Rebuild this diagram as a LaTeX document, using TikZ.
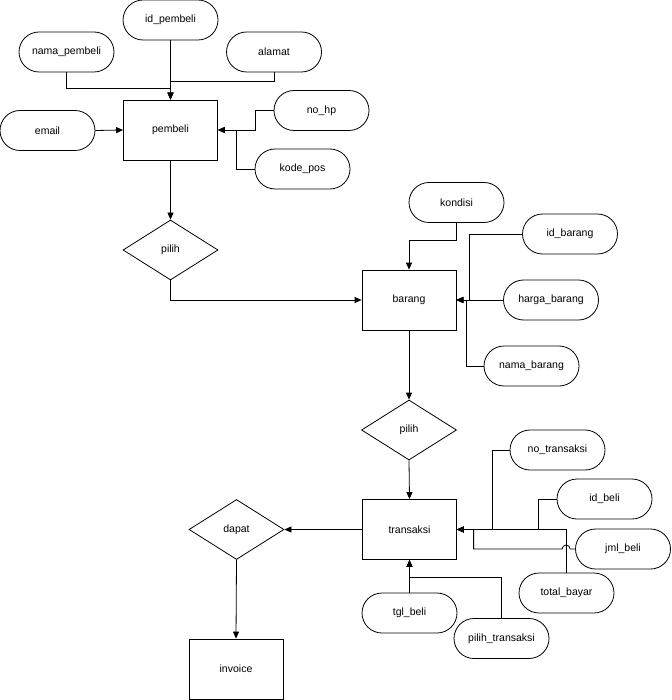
\documentclass[tikz,border=0pt]{standalone}
\usepackage{fontspec}
\setmainfont{Liberation Sans}
\usetikzlibrary{shapes.geometric,arrows.meta}

\begin{document}
\begin{tikzpicture}[x=1pt,y=-1pt,line width=0.8pt,
  font=\fontsize{10.5}{12}\selectfont,
  entity/.style={rectangle, draw, minimum width=94pt, minimum height=60pt},
  attr/.style={rectangle, rounded corners=20pt, draw, minimum width=95pt, minimum height=40pt},
  rel/.style={diamond, draw, minimum width=95pt, minimum height=60pt, inner sep=0pt},
  link/.style={-{Triangle[length=7pt,width=6pt]}}]
  \useasboundingbox (0,0) rectangle (671,700);
  \node[entity] (pembeli) at (170.5,130) {pembeli};
  \node[attr] (idpembeli) at (170.5,20) {id\_pembeli};
  \node[attr] (namapembeli) at (66.5,52) {nama\_pembeli};
  \node[attr] (alamat) at (274,52) {alamat};
  \node[attr] (email) at (47.5,130.5) {email};
  \node[attr] (nohp) at (321.5,110.5) {no\_hp};
  \node[attr] (kodepos) at (302.5,169) {kode\_pos};
  \node[rel] (pilihbarang) at (170.5,250) {pilih};
  \node[entity] (barang) at (409,300) {barang};
  \node[attr] (kondisi) at (456.5,202.5) {kondisi};
  \node[attr] (idbarang) at (570,234) {id\_barang};
  \node[attr] (hargabarang) at (551,300) {harga\_barang};
  \node[attr] (namabarang) at (531.5,366) {nama\_barang};
  \node[rel] (pilihtrans) at (409,430) {pilih};
  \node[entity] (transaksi) at (409.5,529.5) {transaksi};
  \node[attr] (notransaksi) at (557.5,450) {no\_transaksi};
  \node[attr] (idbeli) at (604.5,499) {id\_beli};
  \node[attr] (jmlbeli) at (623,549) {jml\_beli};
  \node[attr] (totalbayar) at (566.5,593) {total\_bayar};
  \node[attr] (tglbeli) at (409.5,613) {tgl\_beli};
  \node[attr] (pilihtransaksi) at (501.5,638.5) {pilih\_transaksi};
  \node[rel] (dapat) at (236.5,529.5) {dapat};
  \node[entity] (invoice) at (236,669) {invoice};

  \draw[link] (idpembeli.south) -- (pembeli.north);
  \draw[link] (namapembeli.south) -- ++(0,16) -| (pembeli.north);
  \draw[link] (alamat.south) -- ++(0,9) -| (pembeli.north);
  \draw[link] (email.east) -- (pembeli.west);
  \draw[link] (nohp.west) -- ++(-18,0) |- (pembeli.east);
  \draw[link] (kodepos.west) -- ++(-18,0) |- (pembeli.east);
  \draw[link] (pembeli.south) -- (pilihbarang.north);
  \draw[link] (pilihbarang.south) |- (barang.west);
  \draw[link] (kondisi.south) -- ++(0,18) -| (barang.north);
  \draw[link] (idbarang.west) -- ++(-53,0) |- (barang.east);
  \draw[link] (hargabarang.west) -- (barang.east);
  \draw[link] (namabarang.west) -- ++(-17,0) |- (barang.east);
  \draw[link] (barang.south) -- (pilihtrans.north);
  \draw[link] (pilihtrans.south) -- (transaksi.north);
  \draw[link] (notransaksi.west) -- ++(-17.5,0) |- (transaksi.east);
  \draw[link] (idbeli.west) -- ++(-18,0) |- (transaksi.east);
  \draw[link] (totalbayar.north) |- (transaksi.east);
  \draw[link] (jmlbeli.west) -- ++(-5,0) arc[start angle=0, end angle=-180, radius=4] -- ++(-88.5,0) |- (transaksi.east);
  \draw[link] (tglbeli.north) -- (transaksi.south);
  \draw[link] (pilihtransaksi.north) -- ++(0,-41) -| (transaksi.south);
  \draw[link] (transaksi.west) -- (dapat.east);
  \draw[link] (dapat.south) -- (invoice.north);
\end{tikzpicture}
\end{document}
